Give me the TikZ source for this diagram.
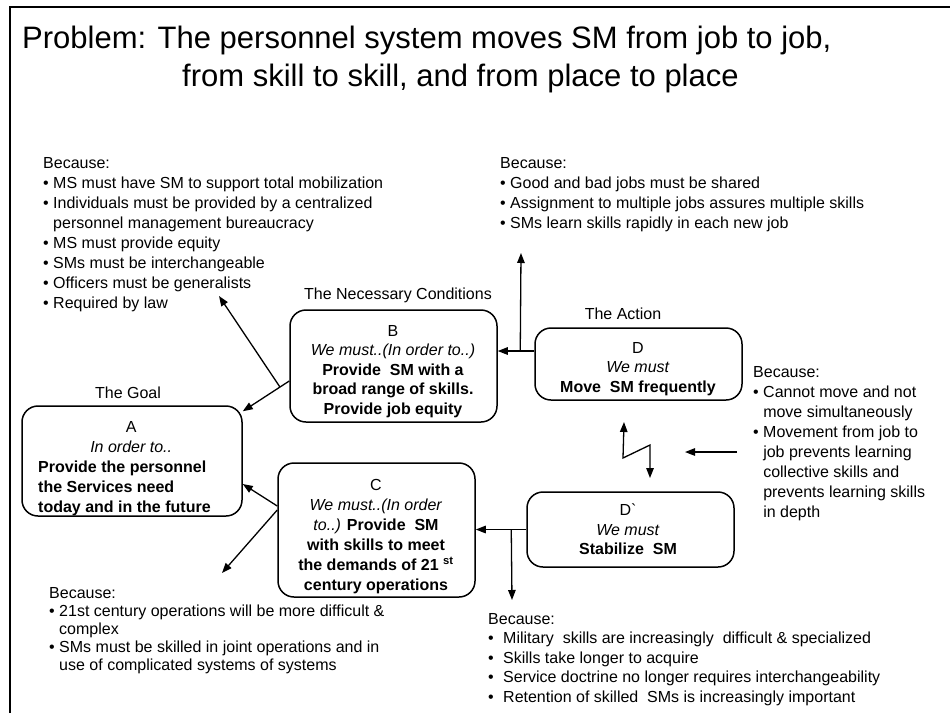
\documentclass[tikz,border=0pt]{standalone}
\usepackage{fontspec}
\setmainfont{Liberation Sans}
\usetikzlibrary{arrows.meta,calc}

\begin{document}
\begin{tikzpicture}[x=1pt,y=-1pt,
  frame/.style={line width=1.3pt},
  goalbox/.style={draw, line width=1.5pt, rounded corners=16pt, inner sep=0pt},
  boxtext/.style={align=center, inner sep=0pt, anchor=north, font=\fontsize{16}{19.5}\selectfont},
  tag/.style={inner sep=0pt, font=\fontsize{16}{19}\selectfont},
  reason/.style={align=left, inner sep=0pt, anchor=north west, font=\fontsize{16}{20}\selectfont},
  link/.style={line width=1.3pt, -{Triangle[length=10pt,width=7.5pt]}},
  zigzag/.style={line width=1.3pt, {Triangle[length=10pt,width=7.5pt]}-{Triangle[length=10pt,width=7.5pt]}},
]
\useasboundingbox (0,0) rectangle (950,713);

% outer frame (top and left rules)
\draw[frame] (10,713) -- (10,7) -- (950,7);

% title
\node[anchor=base west, inner sep=0pt, font=\fontsize{31}{37}\selectfont] (title1) at (22,48)
  {Problem: The personnel system moves SM from job to job,};
\node[anchor=base west, inner sep=0pt, font=\fontsize{31}{37}\selectfont] (title2) at (182,86)
  {from skill to skill, and from place to place};

% boxes
\node[goalbox, minimum width=220pt, minimum height=110pt] (A)  at (132,461) {};
\node[goalbox, minimum width=207pt, minimum height=112pt] (B)  at (393.5,366) {};
\node[goalbox, minimum width=197pt, minimum height=134pt] (C)  at (376.5,530) {};
\node[goalbox, minimum width=207pt, minimum height=72pt]  (D)  at (638.5,364) {};
\node[goalbox, minimum width=207pt, minimum height=75pt]  (Dp) at (630.5,529.5) {};

% box contents
\node[boxtext, anchor=north west, align=left, font=\fontsize{16}{20}\selectfont] (Atext) at (38,421)
  {\makebox[186pt]{A}\\
   \makebox[186pt]{\itshape In order to..}\\
   \textbf{Provide the personnel}\\
   \textbf{the Services need}\\
   \textbf{today and in the future}};
\node[boxtext] (Btext) at (393,325)
  {B\\
   \textit{We must..(In order to..)}\\
   \textbf{Provide\ \ SM with a}\\
   \textbf{broad range of skills.}\\
   \textbf{Provide job equity}};
\node[boxtext, font=\fontsize{16}{20}\selectfont] (Ctext) at (376,479)
  {C\\
   \textit{We must..(In order}\\
   \textit{to..)} \textbf{Provide\ \ SM}\\
   \textbf{with skills to meet}\\
   \textbf{the demands of 21 \textsuperscript{st}}\\
   \textbf{century operations}};
\node[boxtext] (Dtext) at (638,342)
  {D\\
   \textit{We must}\\
   \textbf{Move\ \ SM frequently}};
\node[boxtext] (Dptext) at (628,504)
  {D\textasciigrave\\
   \textit{We must}\\
   \textbf{Stabilize\ \ SM}};

% headings over the boxes
\node[tag] (goalTag) at (128,393) {The Goal};
\node[tag] (condTag) at (398,295) {The Necessary Conditions};
\node[tag] (actTag)  at (623,314) {The Action};

% reasons
\node[reason] (whyB) at (43,157)
  {Because:\\
   \textbullet\ MS must have SM to support total mobilization\\
   \textbullet\ Individuals must be provided by a centralized\\
   \hphantom{\textbullet\ }personnel management bureaucracy\\
   \textbullet\ MS must provide equity\\
   \textbullet\ SMs must be interchangeable\\
   \textbullet\ Officers must be generalists\\
   \textbullet\ Required by law};
\node[reason] (whyD) at (500,157)
  {Because:\\
   \textbullet\ Good and bad jobs must be shared\\
   \textbullet\ Assignment to multiple jobs assures multiple skills\\
   \textbullet\ SMs learn skills rapidly in each new job};
\node[reason] (whyConflict) at (753,366)
  {Because:\\
   \textbullet\ Cannot move and not\\
   \hphantom{\textbullet\ }move simultaneously\\
   \textbullet\ Movement from job to\\
   \hphantom{\textbullet\ }job prevents learning\\
   \hphantom{\textbullet\ }collective skills and\\
   \hphantom{\textbullet\ }prevents learning skills\\
   \hphantom{\textbullet\ }in depth};
\node[reason, font=\fontsize{16}{18}\selectfont] (whyC) at (49,587)
  {Because:\\
   \textbullet\ 21st century operations will be more difficult \&\\
   \hphantom{\textbullet\ }complex\\
   \textbullet\ SMs must be skilled in joint operations and in\\
   \hphantom{\textbullet\ }use of complicated systems of systems};
\node[reason, font=\fontsize{16}{19.5}\selectfont] (whyDp) at (488,613)
  {Because:\\
   \makebox[15pt][l]{\textbullet}Military\ \ skills are increasingly\ \ difficult \& specialized\\
   \makebox[15pt][l]{\textbullet}Skills take longer to acquire\\
   \makebox[15pt][l]{\textbullet}Service doctrine no longer requires interchangeability\\
   \makebox[15pt][l]{\textbullet}Retention of skilled\ \ SMs is increasingly important};

% connection points
\coordinate (bA)     at ([yshift=-15pt]B.west);
\coordinate (aTop)   at ([yshift=-6pt]A.north east);
\coordinate (bFork)  at ($(bA)!0.2!(aTop)$);
\coordinate (bWhy)   at (219,296);
\coordinate (cA)     at ([yshift=24pt]C.west);
\coordinate (cDown)  at ([yshift=20pt]C.west);
\coordinate (aSide)  at ([yshift=-23pt]A.east);
\coordinate (cWhy)   at (222,573);
\coordinate (dB)     at ([yshift=13pt]D.west);
\coordinate (dFork)  at ([xshift=-14pt]dB);
\coordinate (dWhy)   at (521,253);
\coordinate (dpFork) at ([xshift=-15pt]Dp.west);
\coordinate (dpWhy)  at (512,600);
\coordinate (zz1)    at (624,422);
\coordinate (zz2)    at (623,458);
\coordinate (zz3)    at (650,445);
\coordinate (zz4)    at (650,478);
\coordinate (cfFrom) at (737,452);
\coordinate (cfTo)   at (685,452);

% necessary conditions support the goal
\draw[link] (bA) -- (aTop);
\draw[link] (bFork) -- (bWhy);
\draw[link] (cA) -- (aSide);
\draw[link] (cDown) -- (cWhy);

% actions support the conditions
\draw[link] (dB) -- (dB -| B.east);
\draw[link] (dFork) -- (dWhy);
\draw[link] (Dp.west) -- (Dp.west -| C.east);
\draw[link] (dpFork) -- (dpWhy);

% conflict between the two actions
\draw[zigzag] (zz1) -- (zz2) -- (zz3) -- (zz4);
\draw[link] (cfFrom) -- (cfTo);
\end{tikzpicture}
\end{document}
